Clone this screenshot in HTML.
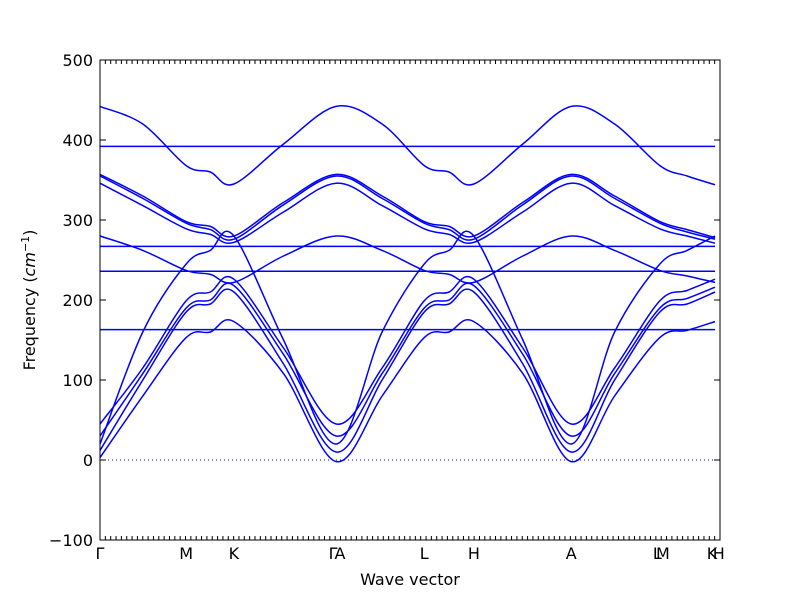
<!DOCTYPE html>
<html><head><meta charset="utf-8"><style>
html,body{margin:0;padding:0;background:#fff;}
svg{display:block;font-family:"DejaVu Sans","Liberation Sans",sans-serif;}
</style></head><body>
<svg id="chart" width="800" height="600" viewBox="0 0 800 600">
<rect x="0" y="0" width="800" height="600" fill="#fff"/>
<g id="plot"></g>
<text x="410" y="585" text-anchor="middle" font-size="16">Wave vector</text>
<text transform="translate(35,300) rotate(-90)" text-anchor="middle" font-size="16">Frequency (<tspan font-style="italic">cm</tspan><tspan font-size="11" dy="-6">−1</tspan><tspan dy="6">)</tspan></text>
</svg>
<script>
// k-path node positions (distance along path, 0..1) and labels
const kLabels = ["Γ","M","K","Γ","A","L","H","A","L","M","K","H"];
const kLabelPos = [0, 0.139, 0.216, 0.376, 0.387, 0.523, 0.603, 0.760, 0.899, 0.908, 0.987, 0.998];
const nodePos = [0, 0.069, 0.139, 0.178, 0.216, 0.296, 0.381, 0.455, 0.523, 0.563, 0.603, 0.682, 0.760, 0.830, 0.903, 0.947, 0.992];
const yTicks = [-100, 0, 100, 200, 300, 400, 500];
// band frequencies (cm^-1) at the nodes
const band1 = [442,420,368,360,345,395,442,420,368,360,345,395,442,420,368,355,344];
const band2 = [392,392,392,392,392,392,392,392,392,392,392,392,392,392,392,392,392];
const band3 = [357,330,298,292,280,322,357,330,298,292,280,322,357,330,298,288,278];
const band4 = [355,327,296,288,276,319,355,327,296,288,276,319,355,327,296,285,276];
const band5 = [346,318,289,282,272,310,346,318,289,282,272,310,346,318,289,280,271];
const band6 = [267,267,267,267,267,267,267,267,267,267,267,267,267,267,267,267,267];
const band7 = [280,262,237,232,222,255,280,262,237,232,222,255,280,262,237,230,222];
const band8 = [236,236,236,236,236,236,236,236,236,236,236,236,236,236,236,236,236];
const band9 = [20,160,245,262,280,150,20,160,245,262,280,150,20,160,245,262,280];
const band10 = [45,115,199,210,226,140,45,115,199,210,226,140,45,115,199,212,226];
const band11 = [30,108,190,200,218,132,30,108,190,200,218,132,30,108,190,202,216];
const band12 = [3,80,153,160,173,108,-2,80,153,160,173,108,-2,80,153,162,173];
const band13 = [163,163,163,163,163,163,163,163,163,163,163,163,163,163,163,163,163];
const band14 = [12,100,185,195,210,120,10,100,185,195,210,120,10,100,185,195,210];
const bands = [band1,band2,band3,band4,band5,band6,band7,band8,band9,band10,band11,band12,band13,band14];

const X0=100, X1=720, Y0=60, Y1=540, YMIN=-100, YMAX=500;
function xs(q){return X0+q*(X1-X0);}
function ys(v){return Y1-(v-YMIN)/(YMAX-YMIN)*(Y1-Y0);}
const NS="http://www.w3.org/2000/svg";
const plot=document.getElementById('plot');
function mk(tag,attrs){const e=document.createElementNS(NS,tag);for(const k in attrs)e.setAttribute(k,attrs[k]);return e;}

// zero line
const zl=mk('line',{x1:X0,x2:X1,y1:ys(0),y2:ys(0),stroke:'#0000ff','stroke-width':1,'stroke-dasharray':'1,3'});


plot.appendChild(zl);

// bands (Catmull-Rom smoothing through nodes)
bands.forEach((b,bi)=>{
  const pts=b.map((v,i)=>[xs(nodePos[i]),ys(v)]);
  let d='M'+pts[0][0]+','+pts[0][1];
  for(let i=0;i<pts.length-1;i++){
    const p0=pts[Math.max(0,i-1)],p1=pts[i],p2=pts[i+1],p3=pts[Math.min(pts.length-1,i+2)];
    const c1=[p1[0]+(p2[0]-p0[0])/6,p1[1]+(p2[1]-p0[1])/6];
    const c2=[p2[0]-(p3[0]-p1[0])/6,p2[1]-(p3[1]-p1[1])/6];
    d+=' C'+c1[0]+','+c1[1]+' '+c2[0]+','+c2[1]+' '+p2[0]+','+p2[1];
  }
  const p=mk('path',{d:d,fill:'none',stroke:'#0000ff','stroke-width':1.5});
  
  
  plot.appendChild(p);
});

// minor ticks along top and bottom
const nMinor=116;
for(let i=0;i<=nMinor;i++){
  const x=X0+i*(X1-X0)/nMinor;
  const t=mk('path',{d:`M${x},${Y1}v-4M${x},${Y0}v4`,stroke:'#000','stroke-width':1});
  
  
  plot.appendChild(t);
}
// y ticks and labels
yTicks.forEach(v=>{
  const y=ys(v);
  const t=mk('path',{d:`M${X0},${y}h6M${X1},${y}h-6`,stroke:'#000','stroke-width':1});
  
  
  plot.appendChild(t);
  const tx=mk('text',{x:X0-7,y:y+6,'text-anchor':'end','font-size':16});
  tx.textContent=(v<0?'\u2212':'')+Math.abs(v);
  
  
  plot.appendChild(tx);
});
// x labels
kLabels.forEach((l,i)=>{
  const tx=mk('text',{x:xs(kLabelPos[i]),y:559,'text-anchor':'middle','font-size':16});
  tx.textContent=l;
  
  
  plot.appendChild(tx);
});
// frame
const fr=mk('rect',{x:X0,y:Y0,width:X1-X0,height:Y1-Y0,fill:'none',stroke:'#000','stroke-width':1});


plot.appendChild(fr);
</script>
</body></html>
